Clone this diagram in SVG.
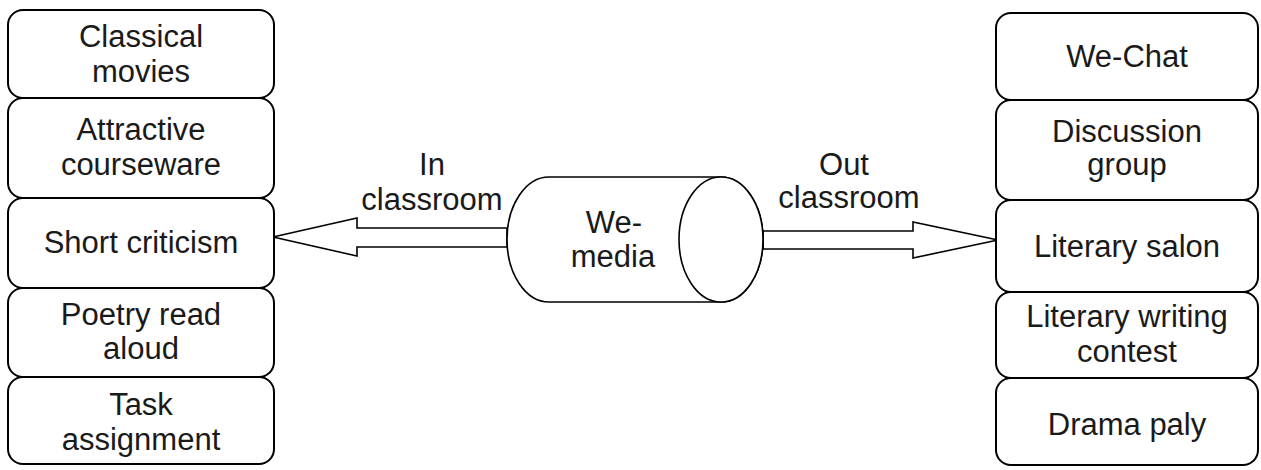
<svg xmlns="http://www.w3.org/2000/svg" width="1261" height="470" viewBox="0 0 1261 470">
<style>
.box{fill:#fff;stroke:#000;stroke-width:2}
.shape{fill:#fff;stroke:#000;stroke-width:1.6}
text{font-family:"Liberation Sans",Arial,sans-serif;font-size:31px;fill:#1a1a1a;text-anchor:middle}
</style>
<rect width="1261" height="470" fill="#fff"/>
<g id="connectors">
<polygon class="shape" points="507,228 357,228 357,218 273,237 357,256 357,247 507,247"/>
<polygon class="shape" points="763,231 913,231 913,222 998,240 913,258 913,249 763,249"/>
<text x="432" y="175">In</text>
<text x="432" y="210">classroom</text>
<text x="844" y="175">Out</text>
<text x="849" y="208">classroom</text>
</g>
<g id="we-media">
<path class="shape" d="M549,177 L721,177 A42,62.5 0 0 1 721,302 L549,302 A42,62.5 0 0 1 549,177 Z"/>
<ellipse class="shape" cx="721" cy="239.5" rx="42" ry="62.5"/>
<text x="614" y="233">We-</text>
<text x="613" y="267">media</text>
</g>
<g id="classical-movies">
<rect class="box" x="8" y="10" width="266" height="88" rx="15"/>
<text x="141" y="47">Classical</text>
<text x="141" y="82">movies</text>
</g>
<g id="attractive-courseware">
<rect class="box" x="8" y="98" width="266" height="100" rx="15"/>
<text x="141" y="140">Attractive</text>
<text x="141" y="175">courseware</text>
</g>
<g id="short-criticism">
<rect class="box" x="8" y="198" width="266" height="90" rx="15"/>
<text x="141" y="253">Short criticism</text>
</g>
<g id="poetry-read-aloud">
<rect class="box" x="8" y="288" width="266" height="89" rx="15"/>
<text x="141" y="325">Poetry read</text>
<text x="141" y="359">aloud</text>
</g>
<g id="task-assignment">
<rect class="box" x="8" y="377" width="266" height="87" rx="15"/>
<text x="141" y="415">Task</text>
<text x="141" y="450">assignment</text>
</g>
<g id="we-chat">
<rect class="box" x="996" y="13" width="262" height="87" rx="15"/>
<text x="1127" y="67">We-Chat</text>
</g>
<g id="discussion-group">
<rect class="box" x="996" y="100" width="262" height="100" rx="15"/>
<text x="1127" y="142">Discussion</text>
<text x="1127" y="175">group</text>
</g>
<g id="literary-salon">
<rect class="box" x="996" y="200" width="262" height="92" rx="15"/>
<text x="1127" y="257">Literary salon</text>
</g>
<g id="literary-writing-contest">
<rect class="box" x="996" y="292" width="262" height="86" rx="15"/>
<text x="1127" y="327">Literary writing</text>
<text x="1127" y="362">contest</text>
</g>
<g id="drama-paly">
<rect class="box" x="996" y="378" width="262" height="87" rx="15"/>
<text x="1127" y="435">Drama paly</text>
</g>
</svg>
